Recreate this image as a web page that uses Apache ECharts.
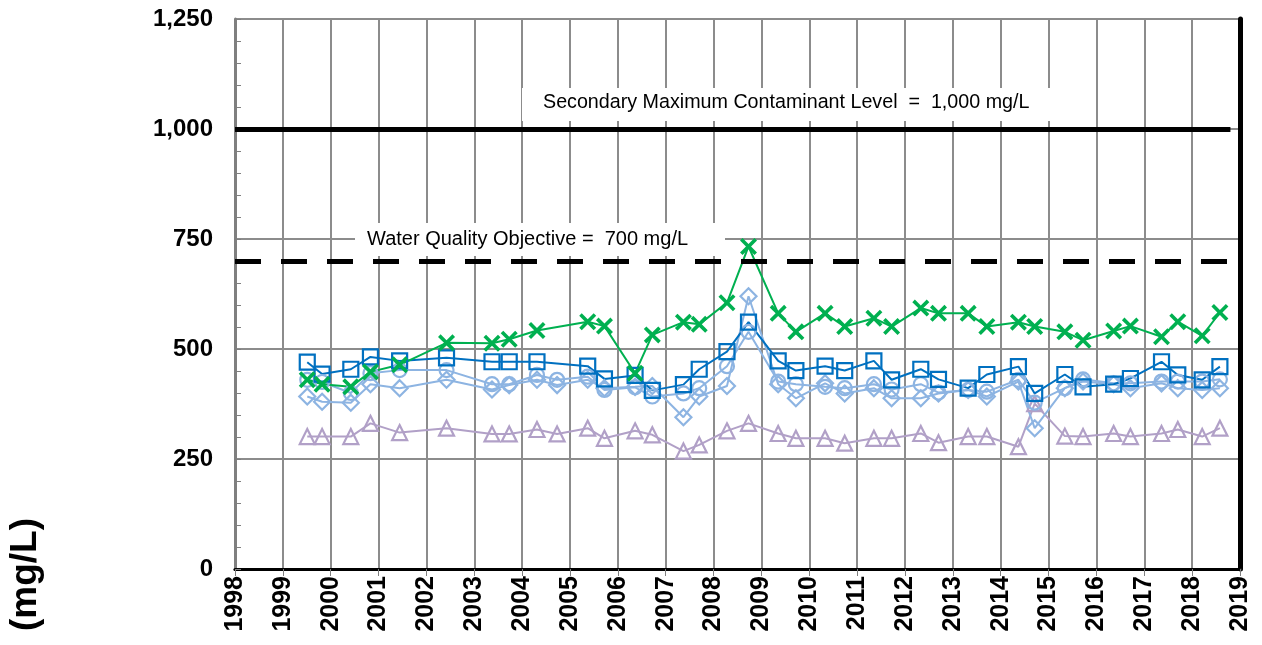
<!DOCTYPE html>
<html>
<head>
<meta charset="utf-8">
<script src="https://cdn.jsdelivr.net/npm/echarts@6/dist/echarts.min.js"></script>
<style>
  html, body { margin: 0; padding: 0; background: #fff; }
  #chart { width: 1262px; height: 645px; }
</style>
</head>
<body>
<div id="chart"></div>
<script>
// sample dates (decimal years)
var sampleYears = [1999.51, 1999.82, 2000.42, 2000.83, 2001.44, 2002.42, 2003.37, 2003.73, 2004.31, 2004.73,
    2005.37, 2005.72, 2006.36, 2006.72, 2007.37, 2007.70, 2008.28, 2008.73, 2009.35, 2009.72,
    2010.33, 2010.74, 2011.35, 2011.72, 2012.33, 2012.70, 2013.32, 2013.71, 2014.37, 2014.71,
    2015.34, 2015.72, 2016.36, 2016.71, 2017.36, 2017.70, 2018.21, 2018.58];

// mg/L
var greenX = [430, 420, 414, 448, 464, 514, 513, 522, 542, null,
    562, 552, 445, 532, 561, 556, 605, 733, 581, 539,
    581, 551, 570, 551, 593, 581, 581, 551, 561, 551,
    539, 520, 541, 552, 528, 562, 530, 583];
var blueSquare = [470, 443, 454, 482, 473, 480, 471, 471, 471, null,
    461, 432, 440, 406, 419, 454, 494, 561, 473, 451,
    461, 451, 473, 430, 454, 431, 411, 442, 460, 399,
    442, 414, 420, 433, 471, 441, 430, 460];
var lightCircle = [430, 425, 400, 445, 452, 452, 420, 420, 441, 430,
    437, 407, 413, 392, 399, 411, 461, 539, 426, 420,
    414, 411, 420, 408, 420, 401, 407, 403, 430, 378,
    411, 431, 422, 422, 426, 426, 426, 431];
var lightDiamond = [392, 380, 378, 420, 411, 430, 408, 418, 430, 418,
    430, 411, 414, 416, 345, 392, 416, 620, 420, 388,
    422, 399, 411, 388, 388, 399, 407, 392, 426, 320,
    411, 426, 420, 411, 422, 411, 407, 411];
var purpleTriangle = [301, 301, 301, 331, 310, 320, 307, 307, 317, 307,
    320, 297, 314, 305, 268, 282, 314, 331, 308, 297,
    297, 286, 297, 297, 308, 287, 301, 301, 278, 376,
    302, 301, 308, 301, 308, 317, 301, 320];

var yTicks = [0, 250, 500, 750, 1000, 1250];
var smcl = 1000;
var wqo = 700;

var font = 'Arial, "Liberation Sans", sans-serif';
var gridColor = '#8c8c8c';

var toPairs = function (vals) {
    var out = [];
    for (var i = 0; i < sampleYears.length; i++) {
        if (vals[i] !== null) out.push([sampleYears[i], vals[i]]);
    }
    return out;
};

var xMark = 'path://M0,1.5 L1.5,0 L5,3.5 L8.5,0 L10,1.5 L6.5,5 L10,8.5 L8.5,10 L5,6.5 L1.5,10 L0,8.5 L3.5,5 Z';

// hollow markers: transparent fill, coloured outline
var lineSeries = function (name, vals, color, symbol, size) {
    return {
        name: name,
        type: 'line',
        data: toPairs(vals),
        symbol: symbol,
        symbolSize: size,
        lineStyle: { color: color, width: 2 },
        itemStyle: { color: 'rgba(255,255,255,0)', borderColor: color, borderWidth: 2.2 },
        silent: true
    };
};

var myChart = echarts.init(document.getElementById('chart'));

var greenSeries = lineSeries('greenX', greenX, '#00B050', xMark, 17);
greenSeries.itemStyle = { color: '#00B050', borderWidth: 0 };
greenSeries.markLine = {
    silent: true,
    symbol: 'none',
    label: { show: false },
    data: [
        [{ coord: [1998, smcl], lineStyle: { color: '#000', width: 5, type: 'solid' } }, { coord: [2018.8, smcl] }],
        [{ coord: [1998, wqo], lineStyle: { color: '#000', width: 5, type: [26, 20] } }, { coord: [2018.8, wqo] }]
    ]
};

var option = {
    animation: false,
    backgroundColor: '#fff',
    grid: { left: 235, right: 22, top: 19, bottom: 76 },
    xAxis: [
        {
            type: 'value',
            min: 1998,
            max: 2019,
            interval: 1,
            axisLine: { show: true, onZero: false, lineStyle: { color: '#7f7f7f', width: 3 } },
            axisTick: { show: true, length: 7, lineStyle: { color: '#7f7f7f', width: 1 } },
            axisLabel: {
                rotate: 90, margin: 7, color: '#000', fontFamily: font, fontWeight: 'bold', fontSize: 25,
                formatter: function (v) { return String(v); }
            },
            splitLine: { show: true, lineStyle: { color: gridColor, width: 2 } }
        },
        {
            type: 'value', position: 'top', min: 1998, max: 2019,
            axisLine: { show: true, lineStyle: { color: '#000', width: 3 } },
            axisTick: { show: false }, axisLabel: { show: false }, splitLine: { show: false }
        }
    ],
    yAxis: [
        {
            type: 'value',
            min: yTicks[0],
            max: yTicks[yTicks.length - 1],
            interval: 250,
            axisLine: { show: true, lineStyle: { color: '#7f7f7f', width: 3 } },
            axisTick: { show: true, inside: true, length: 6, lineStyle: { color: '#7f7f7f', width: 1 } },
            minorTick: { show: true, splitNumber: 5, length: 6, lineStyle: { color: '#7f7f7f', width: 1 } },
            axisLabel: {
                margin: 22, color: '#000', fontFamily: font, fontWeight: 'bold', fontSize: 24,
                formatter: function (v) { return v.toLocaleString('en-US'); }
            },
            splitLine: { show: true, lineStyle: { color: gridColor, width: 2 } }
        },
        {
            type: 'value', position: 'right', min: 0, max: 1250,
            axisLine: { show: true, lineStyle: { color: '#000', width: 5 } },
            axisTick: { show: false }, axisLabel: { show: false }, splitLine: { show: false }
        }
    ],
    graphic: [
        { type: 'rect', z: 10, shape: { x: 522, y: 88, width: 528, height: 33 }, style: { fill: '#fff' } },
        {
            type: 'text', z: 11, left: 543, top: 93,
            style: { text: 'Secondary Maximum Contaminant Level  =  1,000 mg/L', font: '19.7px ' + font, fill: '#000' }
        },
        { type: 'rect', z: 10, shape: { x: 355, y: 223, width: 370, height: 33 }, style: { fill: '#fff' } },
        {
            type: 'text', z: 11, left: 367, top: 229,
            style: { text: 'Water Quality Objective =  700 mg/L', font: '20px ' + font, fill: '#000' }
        },
        {
            type: 'text', z: 11, left: 7, top: 518, rotation: Math.PI / 2,
            style: { text: '(mg/L)', font: 'bold 37px ' + font, fill: '#000' }
        }
    ],
    series: [
        lineSeries('triangle', purpleTriangle, '#B1A0C7', 'triangle', 15),
        lineSeries('diamond', lightDiamond, '#8DB4E2', 'diamond', 16),
        lineSeries('circle', lightCircle, '#8DB4E2', 'circle', 14),
        lineSeries('square', blueSquare, '#0070C0', 'rect', 15),
        greenSeries
    ]
};

myChart.setOption(option);
</script>
</body>
</html>
